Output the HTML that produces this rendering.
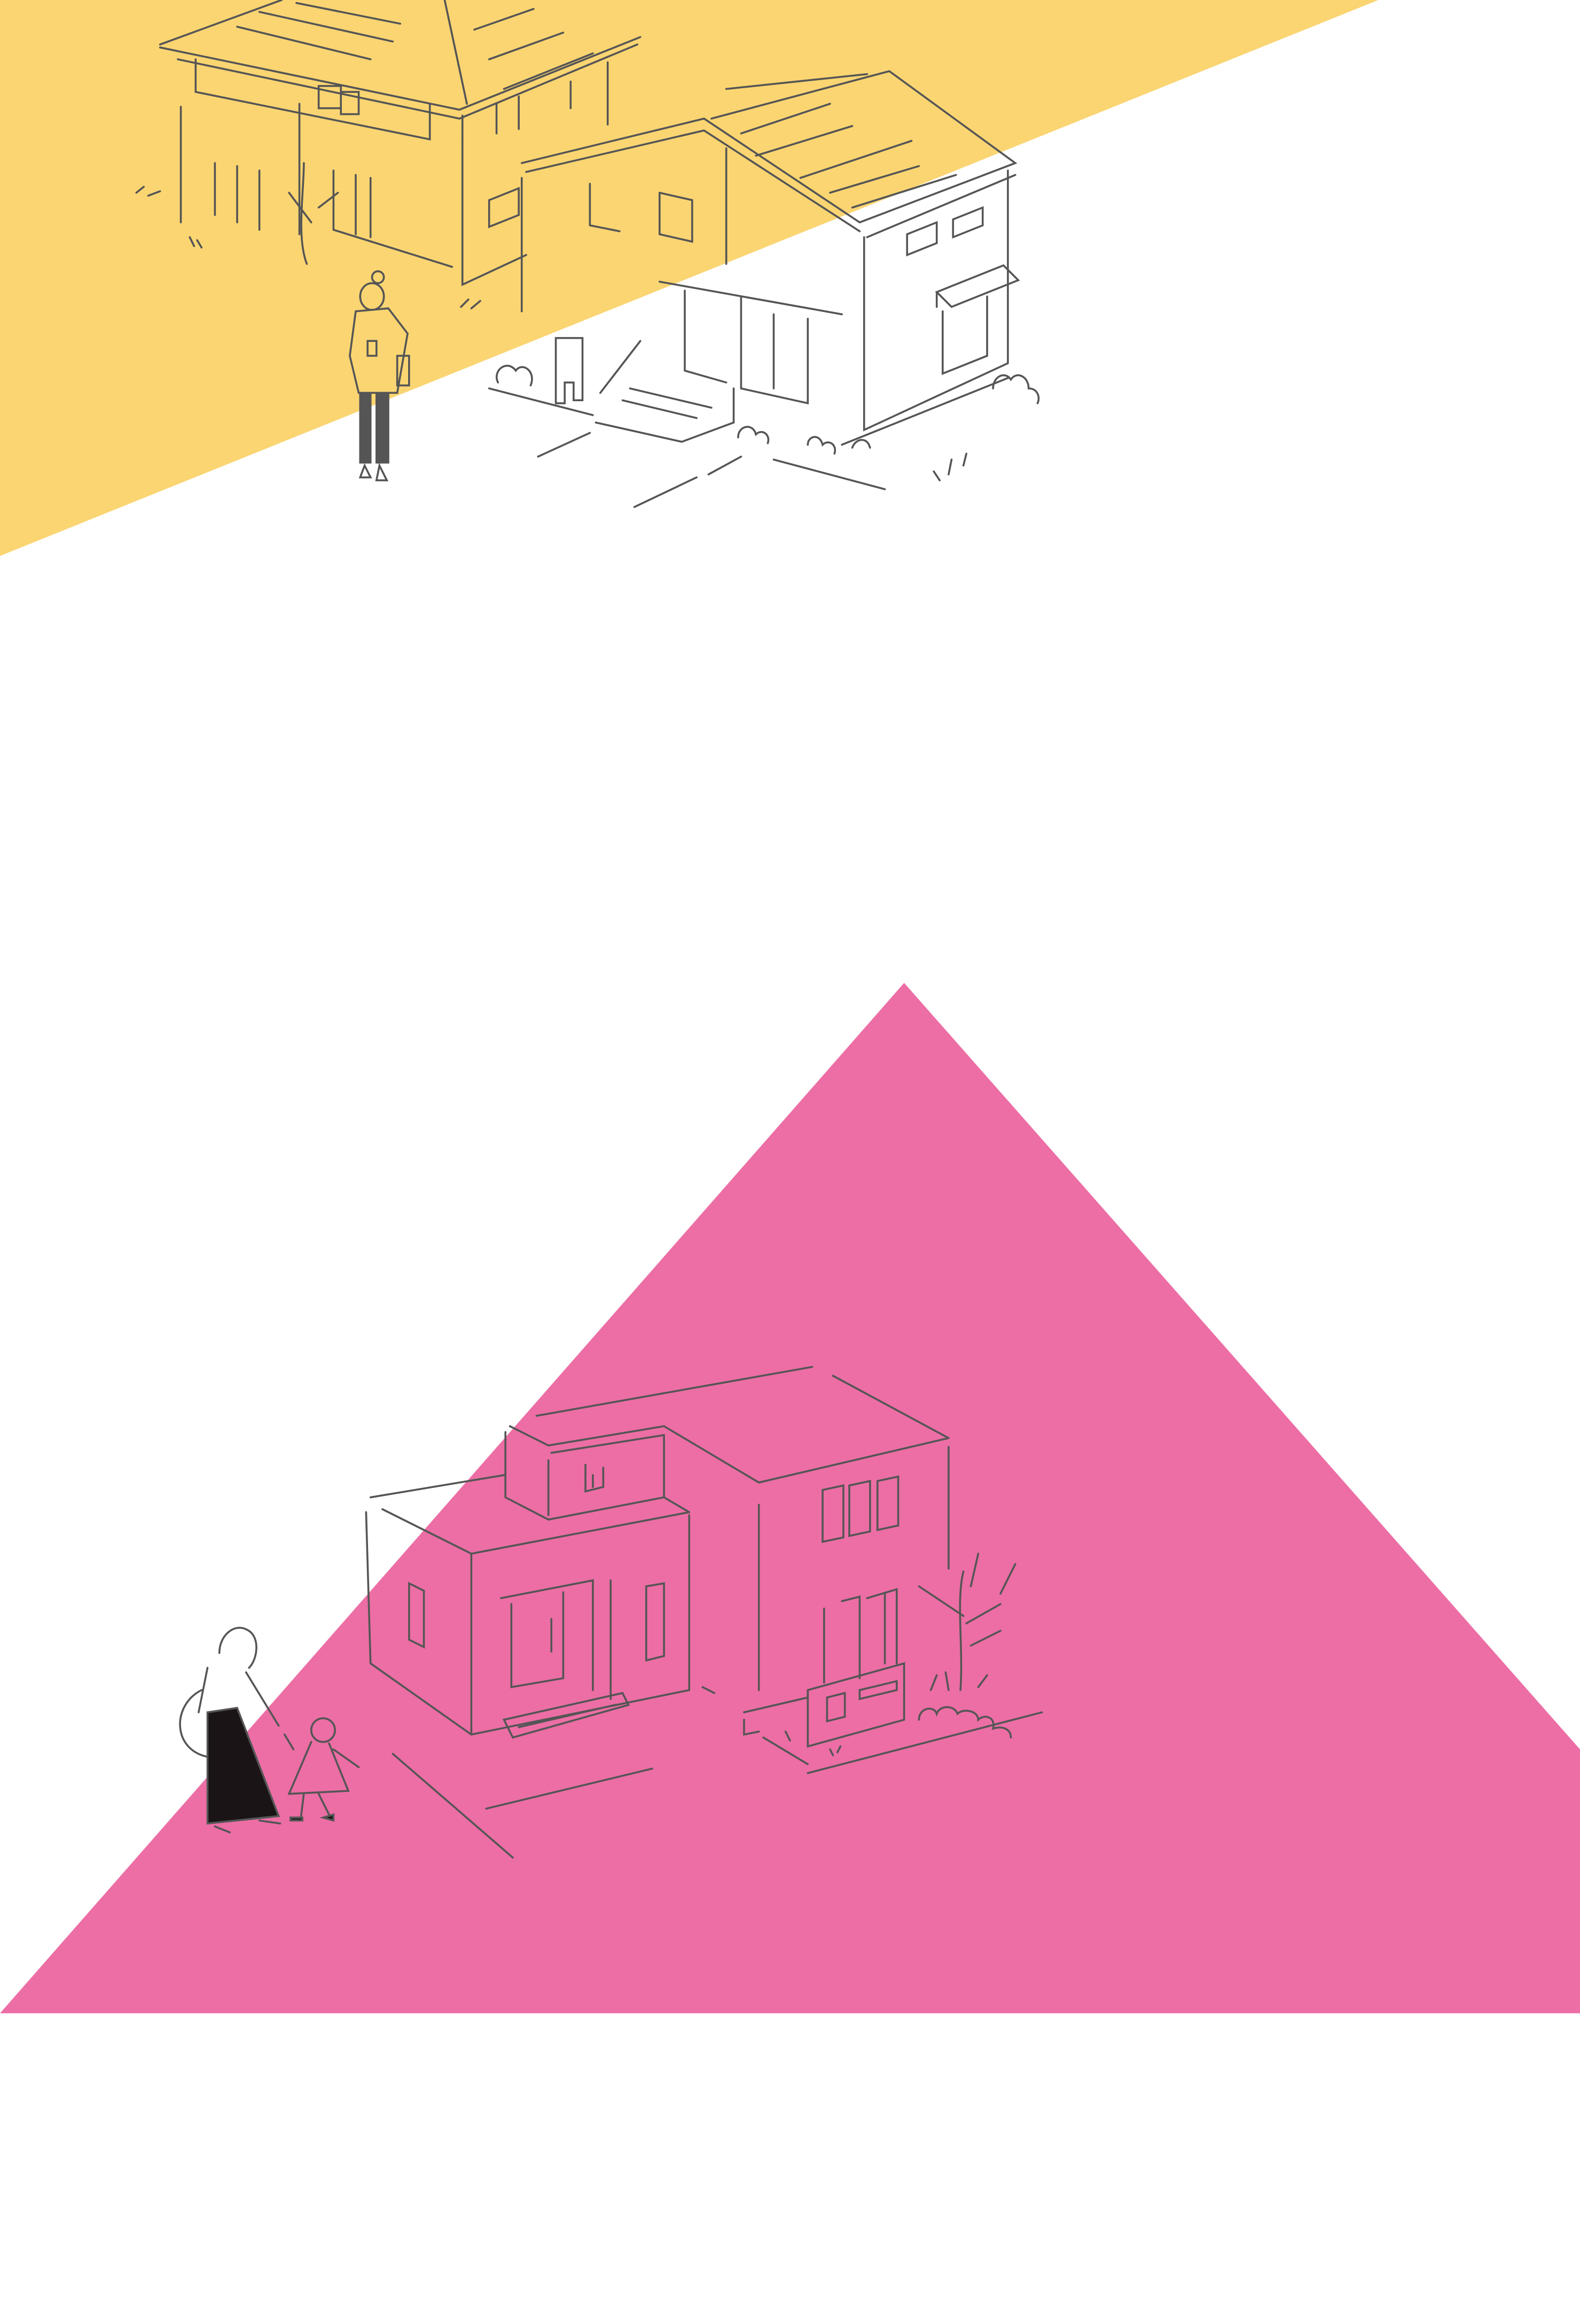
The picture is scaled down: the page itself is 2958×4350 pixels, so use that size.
<!DOCTYPE html>
<html><head><meta charset="utf-8"><style>
html,body{margin:0;padding:0;background:#fff}
svg{display:block}
</style></head><body>
<svg width="2958" height="4350" viewBox="0 0 1066 1567.6" preserveAspectRatio="none" xmlns="http://www.w3.org/2000/svg">
<polygon points="0,0 930,0 0,375" fill="#fad572"/>
<polygon points="610,663 1066,1180 1066,1358 0,1358" fill="#ec6ea5"/>
<g stroke="#555" stroke-width="1.3" fill="none" stroke-linecap="round">
<!-- upper left house -->
<path d="M108,30 L190,0 M108,32 L310,74 L432,25 M300,0 L315,70 M120,40 L310,80 L430,30"/>
<path d="M132,40 V62 L290,94 V70 M122,72 V150 M202,70 V158 M312,78 V192 L355,172 M410,42 V84"/>
<path d="M145,110 V145 M160,112 V150 M175,115 V155 M225,115 V155 M240,118 V158 M250,120 V160"/>
<path d="M160,18 L250,40 M175,8 L265,28 M200,2 L270,16 M320,20 L360,6 M330,40 L380,22 M340,60 L400,36"/>
<path d="M215,58 h15 v15 h-15z M230,62 h12 v15 h-12z M335,70 v20 M350,65 v22 M385,55 v18 M330,135 l20,-8 v18 l-20,8z"/>
<path d="M205,110 C205,130 200,160 207,178 M195,130 L210,150 M215,140 L228,130 M225,155 L305,180"/>
<path d="M92,130 l5,-4 M100,132 l8,-3 M128,160 l3,6 M133,162 l3,5 M311,207 l5,-5 M318,208 l6,-5"/>
<!-- right house -->
<path d="M352,110 L475,80 L580,150 L685,110 L600,48 L480,80 M355,116 L475,88 L580,156 M490,60 L585,50"/>
<path d="M500,90 L560,70 M510,105 L575,85 M540,120 L615,95 M560,130 L620,112 M575,140 L645,118"/>
<path d="M352,120 V210 M490,100 V178 M583,160 V290 L680,245 V115 M585,160 L685,118"/>
<path d="M398,124 v28 l20,4 M445,130 v28 l22,5 V135 l-22,-5 M612,158 l20,-8 v14 l-20,8z M643,148 l20,-8 v12 l-20,8z"/>
<path d="M632,197 l45,-18 l10,10 l-45,18z M632,197 v10 M636,210 V252 L666,240 V200"/>
<path d="M445,190 L568,212 M462,196 V250 L490,258 M500,200 V262 L545,272 V215 M522,212 V262"/>
<path d="M330,262 L400,280 M402,285 L460,298 L495,285 V262 M425,262 L480,275 M420,270 L470,282 M375,228 h18 v42 h-6 v-12 h-6 v14 h-6z M405,265 L432,230"/>
<path d="M363,308 L398,292 M428,342 L470,322 M478,320 L500,308 M522,310 L597,330 M568,300 L680,255"/>
<path d="M336,258 c-4,-8 6,-16 12,-8 c4,-6 14,0 10,10 M498,295 c0,-8 10,-10 12,-2 c4,-4 10,0 8,6 M545,300 c0,-6 8,-8 10,0 c4,-4 10,0 8,6 M575,302 c2,-6 10,-8 12,0 M670,262 c0,-8 8,-12 12,-6 c4,-6 12,-2 12,6 c6,0 8,6 6,10 M630,318 l4,6 M642,310 l-2,10 M652,306 l-2,8"/>
<!-- woman top -->
<circle cx="255" cy="187" r="4"/><path d="M243,200 a8,9 0 1,1 16,0 a8,9 0 1,1 -16,0 M240,210 L236,240 L242,265 H268 L275,225 L262,208 Z M248,230 h6 v10 h-6z M268,240 h8 v20 h-8z"/>
<path d="M243,265 V312 H250 V265 M254,265 V312 H262 V265" fill="#555"/>
<path d="M246,314 l-3,8 h7 z M256,314 l-2,10 h7 z"/>
<!-- pink house -->
<path d="M362,955 L548,922 M562,928 L640,970 M344,962 L370,975 L448,962 L512,1000 L640,970 M372,980 L448,968"/>
<path d="M341,966 V1010 L370,1025 M370,985 V1022 M448,968 V1010 L370,1025 M395,988 v18 l12,-3 v-13 M400,995 v8"/>
<path d="M250,1010 L340,995 M258,1018 L318,1048 L465,1020 M247,1020 L250,1122 L318,1170 L465,1140 M318,1048 V1170 M465,1022 V1140 M448,1010 L465,1020"/>
<path d="M276,1068 v38 l10,5 v-38z M338,1078 L400,1066 V1140 M345,1082 V1138 L380,1132 V1074 M372,1092 v22 M412,1066 v80 M436,1070 v50 l12,-3 V1068z"/>
<path d="M340,1160 L420,1142 L424,1150 L346,1172 Z M350,1165 L415,1150 M474,1138 L482,1142"/>
<path d="M512,1015 V1140 M640,976 V1058 M555,1005 v35 l14,-3 v-35z M573,1002 v34 l14,-3 v-34z M592,999 v33 l14,-3 v-33z"/>
<path d="M556,1085 v50 M568,1080 l12,-3 v55 M585,1078 l20,-6 v50 M597,1075 V1122"/>
<path d="M545,1140 L610,1122 V1160 L545,1178z M558,1145 v16 l12,-3 v-16z M580,1140 l25,-6 v6 l-25,6z"/>
<path d="M502,1155 L545,1145 M502,1160 v10 L512,1168 M515,1172 L545,1190 M545,1196 L703,1155 M530,1168 l3,6 M560,1180 l2,4 M565,1182 l2,-4"/>
<path d="M648,1140 C650,1110 645,1080 650,1060 M650,1090 L620,1070 M652,1095 L675,1082 M655,1070 L660,1048 M655,1110 L675,1100 M685,1055 L675,1075 M620,1160 c0,-8 10,-10 12,-4 c2,-6 12,-6 14,0 c4,-4 14,-2 14,4 c4,-4 12,-2 10,6 c6,-2 12,0 12,6 M628,1140 l4,-10 M640,1140 l-2,-12 M660,1138 l6,-8"/>
<path d="M265,1183 L346,1253 M328,1220 L440,1193"/>
<!-- mother & child -->
<path d="M148,1115 c0,-12 10,-20 18,-16 c10,4 8,20 2,26 M140,1125 l-6,30 M166,1128 l22,36 M136,1140 c-20,10 -20,40 4,45"/>
<path d="M140,1155 L160,1152 L188,1225 L140,1230 Z" fill="#1a1416"/>
<path d="M145,1232 l10,4 M175,1228 l14,2"/>
<circle cx="218" cy="1167" r="8"/><path d="M210,1175 L195,1210 L235,1208 L222,1176 M198,1180 L192,1170 M225,1180 L242,1192 M205,1210 l-2,16 M215,1210 l8,16"/>
<path d="M196,1226 h8 v2 h-8z M218,1226 l7,-2 v4z" fill="#1a1416"/>
</g>
</svg>
</body></html>
